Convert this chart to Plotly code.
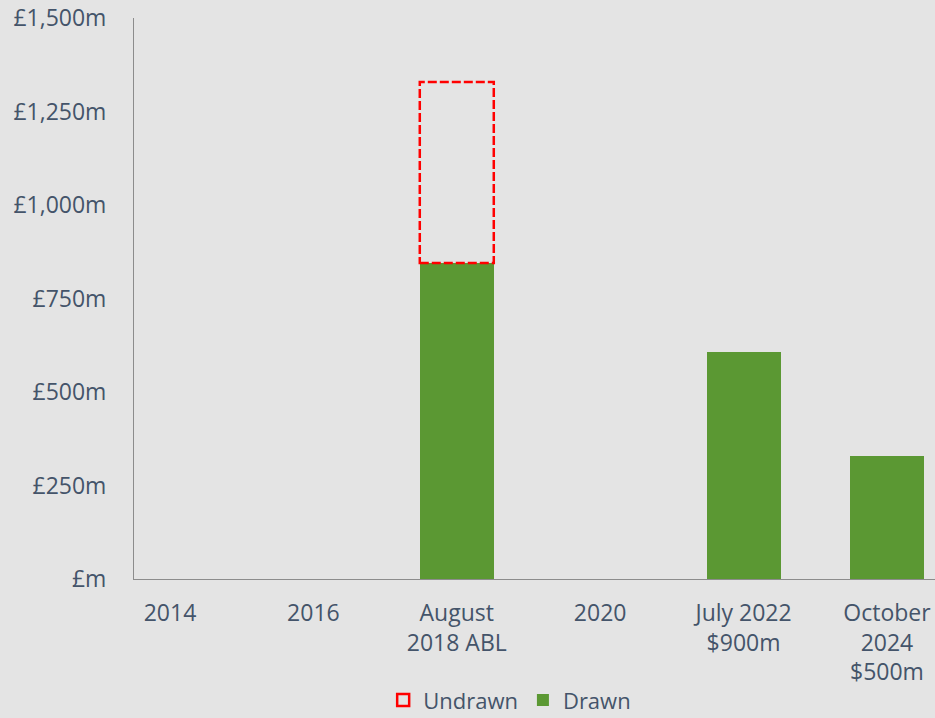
import plotly.graph_objects as go

categories = ["2014", "2016", "August<br>2018 ABL", "2020", "July 2022<br>$900m", "October<br>2024<br>$500m"]
drawn = [0, 0, 845, 0, 607, 329]
undrawn = [0, 0, 484, 0, 0, 0]
y_ticks = [0, 250, 500, 750, 1000, 1250, 1500]
y_tick_labels = ["£m", "£250m", "£500m", "£750m", "£1,000m", "£1,250m", "£1,500m"]

GREEN = "#5b9833"
RED = "#ff0000"
TEXT = "#44546a"
BG = "#e4e4e4"
BAR_W = 0.516

xs = list(range(len(categories)))

fig = go.Figure()
fig.add_trace(go.Bar(
    x=xs, y=drawn, name="Drawn", width=BAR_W,
    marker=dict(color=GREEN, line=dict(width=0)),
    legendrank=2,
))

for i, (d, u) in enumerate(zip(drawn, undrawn)):
    if u > 0:
        fig.add_shape(
            type="rect", xref="x", yref="y",
            x0=i - BAR_W / 2, x1=i + BAR_W / 2, y0=d, y1=d + u,
            line=dict(color=RED, width=2.5, dash="9px,3px"),
            fillcolor="rgba(0,0,0,0)",
            showlegend=True, name="Undrawn", legendrank=1,
        )

fig.update_layout(
    width=935, height=718,
    paper_bgcolor=BG, plot_bgcolor=BG,
    margin=dict(l=134, r=0, t=18, b=139, autoexpand=False),
    font=dict(family="Open Sans", size=23, color=TEXT),
    showlegend=True,
    legend=dict(orientation="h", x=0.469, xanchor="center", y=-0.216, yanchor="middle",
                font=dict(size=22, color=TEXT), bgcolor="rgba(0,0,0,0)",
                itemwidth=30, traceorder="normal"),
    bargap=0,
)
fig.update_xaxes(
    range=[-0.251, 5.335], tickmode="array", tickvals=xs, ticktext=categories,
    showgrid=False, zeroline=False, showline=True, linecolor="#8c8c8c", linewidth=1,
    ticks="", ticklabelstandoff=13, automargin=False,
)
fig.update_yaxes(
    range=[0, 1500], tickmode="array", tickvals=y_ticks, ticktext=y_tick_labels,
    showgrid=False, zeroline=False, showline=True, linecolor="#8c8c8c", linewidth=1,
    ticks="", ticklabelstandoff=22, automargin=False,
)

fig.write_html("out.html", config={"displayModeBar": False},
               post_script="document.body.style.margin='0';document.body.style.background='#e4e4e4';")
